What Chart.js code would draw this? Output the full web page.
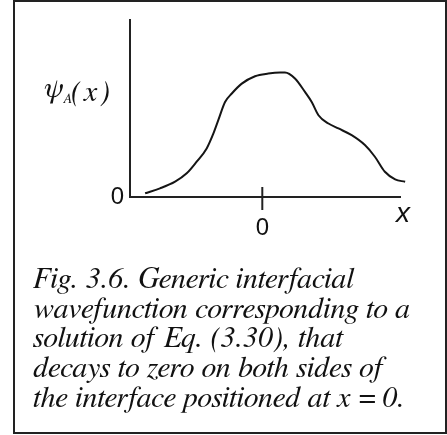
<!DOCTYPE html>
<html>
<head>
<meta charset="utf-8">
<script src="https://cdn.jsdelivr.net/npm/chart.js@4/dist/chart.umd.min.js"></script>
<style>
  html, body { margin: 0; padding: 0; background: #fff; }
  #fig { position: relative; width: 447px; height: 435px; overflow: hidden; background: #fff; }
  #frame { position: absolute; left: 13px; top: 0; width: 434px; height: 434px; box-sizing: border-box; border: 2.5px solid #222; }
  #plot { position: absolute; left: 0; top: 0; }
</style>
</head>
<body>
<div id="fig">
  <div id="frame"></div>
  <canvas id="plot" width="447" height="435"></canvas>
</div>
<script>
// Position across the interface (interface at x = 0)
const xValues = [-4.34, -3.79, -3.23, -2.80, -2.43, -2.06, -1.81, -1.63, -1.38, -1.13,
                 -0.76, -0.27, 0.22, 0.66, 0.84, 1.21, 1.58, 1.83, 2.08, 2.45,
                 2.82, 3.31, 3.80, 4.17, 4.54, 4.92, 5.29, 5.63];
// Wavefunction amplitude psi_A(x)
const psiValues = [0.021, 0.049, 0.087, 0.134, 0.200, 0.275, 0.360, 0.435, 0.538, 0.586,
                   0.642, 0.684, 0.699, 0.705, 0.705, 0.671, 0.595, 0.538, 0.463, 0.416,
                   0.388, 0.350, 0.294, 0.228, 0.143, 0.100, 0.086, 0.072];
// Axis ticks
const xTickValues = [0];
const xTickLabels = ['0'];
const yTickValues = [0];
const yTickLabels = ['0'];
// Axis titles and caption
const yTitle = { main: 'ψ', sub: 'A', tail: '(x)' };
const xTitle = 'x';
const captionLines = [
  'Fig. 3.6. Generic interfacial',
  'wavefunction corresponding to a',
  'solution of Eq. (3.30), that',
  'decays to zero on both sides of',
  'the interface positioned at x = 0.'
];

const SERIF = 'FreeSerif, "Liberation Serif", serif';
const SANS = '"Liberation Sans", Arial, sans-serif';

// Short tick mark crossing the x axis at each x tick
const crossTick = {
  id: 'crossTick',
  afterDraw(chart) {
    const xs = chart.scales.x;
    const ctx = chart.ctx;
    const b = chart.chartArea.bottom;
    ctx.save();
    ctx.strokeStyle = '#222';
    ctx.lineWidth = 2;
    xTickValues.forEach(v => {
      const px = xs.getPixelForValue(v);
      ctx.beginPath();
      ctx.moveTo(px, b - 10);
      ctx.lineTo(px, b + 13);
      ctx.stroke();
    });
    ctx.restore();
  }
};

// Axis titles (horizontal psi label, italic x) and the figure caption
const labels = {
  id: 'labels',
  afterDraw(chart) {
    const ctx = chart.ctx;
    const area = chart.chartArea;
    ctx.save();
    ctx.fillStyle = '#111';
    ctx.textBaseline = 'alphabetic';
    ctx.textAlign = 'left';

    // psi_A(x) to the left of the vertical axis
    ctx.font = 'italic 29px ' + SERIF;
    ctx.fillText(yTitle.main, 43, 97);
    ctx.font = 'italic 14px ' + SERIF;
    ctx.fillText(yTitle.sub, 63, 103);
    ctx.font = 'italic 30px ' + SERIF;
    ctx.letterSpacing = '3px';
    ctx.fillText(yTitle.tail, 71, 101);
    ctx.letterSpacing = '0px';

    // x at the right end of the horizontal axis
    ctx.font = 'italic 28px ' + SANS;
    ctx.fillText(xTitle, area.right - 4, area.bottom + 25);

    // caption
    ctx.font = 'italic 30px ' + SERIF;
    captionLines.forEach((line, i) => ctx.fillText(line, 33, 288 + i * 29.7));
    ctx.restore();
  }
};

new Chart(document.getElementById('plot'), {
  type: 'line',
  data: {
    datasets: [{
      data: xValues.map((x, i) => ({ x: x, y: psiValues[i] })),
      borderColor: '#151515',
      borderWidth: 2,
      pointRadius: 0,
      cubicInterpolationMode: 'monotone',
      fill: false,
      clip: false
    }]
  },
  options: {
    responsive: false,
    animation: false,
    devicePixelRatio: 1,
    layout: { padding: { top: 20, right: 47, bottom: 190, left: 0 } },
    plugins: { legend: { display: false }, tooltip: { enabled: false } },
    scales: {
      x: {
        type: 'linear',
        min: -4.9,
        max: 5.1,
        afterFit(s) { s.height = 48; },
        afterBuildTicks(s) { s.ticks = xTickValues.map(v => ({ value: v })); },
        ticks: {
          autoSkip: false,
          maxRotation: 0,
          padding: 17,
          color: '#111',
          font: { family: SANS, size: 24 },
          callback: (v) => xTickLabels[xTickValues.indexOf(v)]
        },
        grid: { display: false, drawTicks: false },
        border: { display: true, color: '#222', width: 2 }
      },
      y: {
        type: 'linear',
        min: 0,
        max: 1,
        afterFit(s) { s.width = 130; },
        afterBuildTicks(s) { s.ticks = yTickValues.map(v => ({ value: v })); },
        ticks: {
          autoSkip: false,
          padding: 6,
          color: '#111',
          font: { family: SANS, size: 24 },
          callback: (v) => yTickLabels[yTickValues.indexOf(v)]
        },
        grid: { display: false, drawTicks: false },
        border: { display: true, color: '#222', width: 2 }
      }
    }
  },
  plugins: [crossTick, labels]
});
</script>
</body>
</html>
